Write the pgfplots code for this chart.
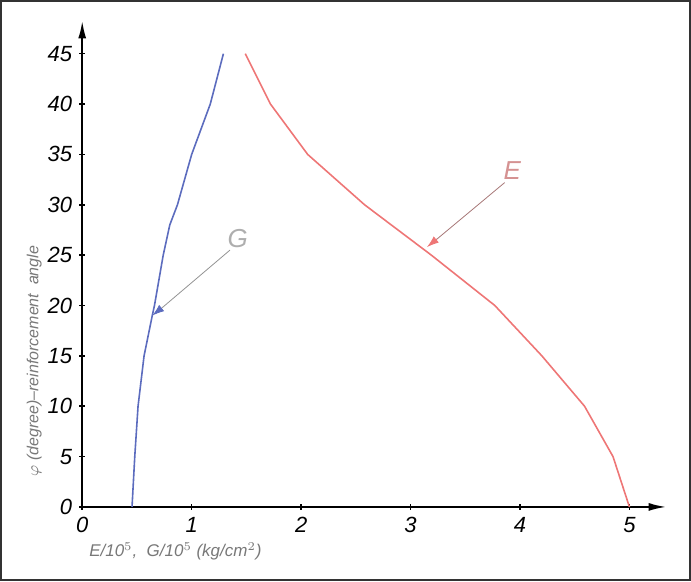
\documentclass[border=0pt]{standalone}
\usepackage{fontspec}
\setmainfont{Liberation Sans}
\usepackage{pgfplots}
\pgfplotsset{compat=1.18}
\usetikzlibrary{arrows.meta}

\definecolor{gline}{RGB}{92,108,190}
\definecolor{eline}{RGB}{238,118,118}
\definecolor{lbl}{RGB}{120,120,120}

\pgfplotstableread{
x     y
0.455 0
0.48  5
0.51  10
0.565 15
0.64  19
0.66  20
0.74  25
0.80  28
0.87  30
1.00  35
1.17  40
1.29  45
}\Gdata

\pgfplotstableread{
x     y
1.49  45
1.72  40
2.06  35
2.58  30
3.19  25
3.77  20
4.20  15
4.59  10
4.85  5
5.00  0
}\Edata

\begin{document}
\begin{tikzpicture}
\begin{axis}[
    scale only axis,
    width=292.5pt, height=243.5pt,
    xmin=0, xmax=5.34, ymin=0, ymax=48.3,
    axis lines=left,
    axis line style={black, line width=1.1pt, -{Latex[length=9pt,width=4pt]}},
    xtick={0,1,2,3,4,5},
    ytick={0,5,...,45},
    tick style={black, line width=0.8pt},
    major tick length=3pt,
    tick align=center,
    ticklabel style={font=\fontsize{11}{12}\selectfont\itshape},
    /pgf/number format/assume math mode=true,
    xticklabel style={yshift=0pt},
    yticklabel style={xshift=0pt},
    clip=false,
]
\addplot[gline, line width=0.8pt] table[x=x, y=y] {\Gdata};
\addplot[eline, line width=0.8pt] table[x=x, y=y] {\Edata};

% annotations
\draw[lbl!80, line width=0.4pt] (axis cs:1.35,25.5) -- (axis cs:0.70,19.5);
\draw[gline, -{Latex[length=6pt,width=4pt]}, line width=0.4pt] (axis cs:0.72,19.7) -- (axis cs:0.64,19.0);
\node[lbl!60, font=\fontsize{13}{14}\selectfont\itshape] at (axis cs:1.42,26.6) {G};

\draw[lbl!60!eline, line width=0.4pt] (axis cs:3.86,32.2) -- (axis cs:3.22,26.4);
\draw[eline, -{Latex[length=6pt,width=4pt]}, line width=0.4pt] (axis cs:3.24,26.6) -- (axis cs:3.15,25.8);
\node[eline!70!lbl!80, font=\fontsize{13}{14}\selectfont\itshape] at (axis cs:3.93,33.4) {E};

% axis titles
\node[lbl, font=\fontsize{8.5}{10}\selectfont\itshape, anchor=west] at (rel axis cs:0.0,-0.092) {E/10$^{5}$,\ \ G/10$^{5}$\ (kg/cm$^{2}$)};
\node[lbl, font=\fontsize{8}{10}\selectfont\itshape, rotate=90] at (rel axis cs:-0.082,0.30) {$\varphi$ (degree)--reinforcement\ \ angle};

% frame
\draw[black!80, line width=1pt] (rel axis cs:-0.139,-0.151) rectangle (rel axis cs:1.040,1.040);
\end{axis}
\end{tikzpicture}
\end{document}
